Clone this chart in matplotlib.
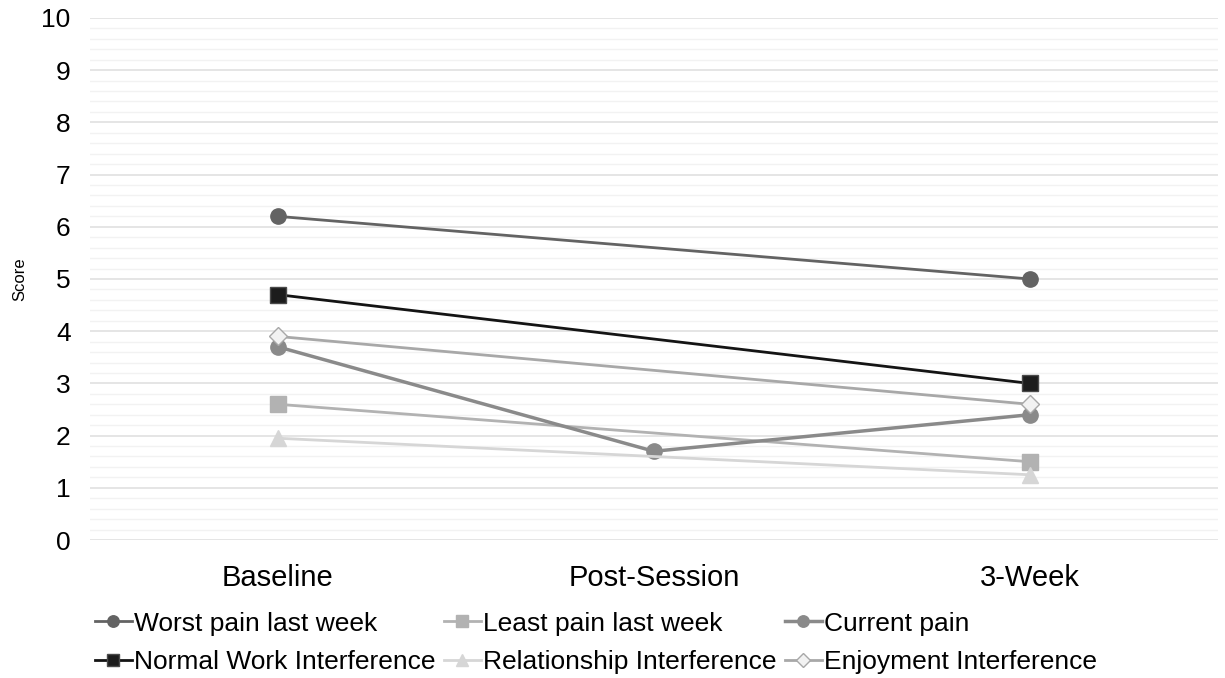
import numpy as np
import matplotlib
matplotlib.use("Agg")
import matplotlib.pyplot as plt

plt.rcParams['font.family'] = ['Liberation Sans', 'DejaVu Sans']

categories = ["Baseline", "Post-Session", "3-Week"]
worst_pain = [6.2, None, 5.0]
least_pain = [2.6, None, 1.5]
current_pain = [3.7, 1.7, 2.4]
normal_work = [4.7, None, 3.0]
relationship = [1.95, None, 1.25]
enjoyment = [3.9, None, 2.6]

series = [
    ("Worst pain last week", worst_pain, dict(color="#636363", marker="o", mfc="#636363", mec="#636363", lw=2.0, ms=11)),
    ("Least pain last week", least_pain, dict(color="#b2b2b2", marker="s", mfc="#b2b2b2", mec="#b2b2b2", lw=2.0, ms=11)),
    ("Current pain", current_pain, dict(color="#8a8a8a", marker="o", mfc="#8a8a8a", mec="#8a8a8a", lw=2.5, ms=11)),
    ("Normal Work Interference", normal_work, dict(color="#141414", marker="s", mfc="#1c1c1c", mec="#4a4a4a", lw=2.0, ms=11)),
    ("Relationship Interference", relationship, dict(color="#d6d6d6", marker="^", mfc="#d6d6d6", mec="#d6d6d6", lw=2.0, ms=12)),
    ("Enjoyment Interference", enjoyment, dict(color="#a8a8a8", marker="D", mfc="#f2f2f2", mec="#a8a8a8", lw=2.0, ms=9)),
]

fig = plt.figure(figsize=(12.25, 6.78), dpi=100)
ax = fig.add_axes([0.0735, 0.2035, 0.9205, 0.77])

handles = []
for name, vals, st in series:
    xs = [i for i, v in enumerate(vals) if v is not None]
    ys = [v for v in vals if v is not None]
    h, = ax.plot(xs, ys, label=name, zorder=3, **st)
    handles.append(h)

ax.set_xlim(-0.5, 2.5)
ax.set_ylim(0, 10)
ax.set_yticks(np.arange(0, 11, 1))
ax.set_yticks(np.arange(0, 10.01, 0.2), minor=True)
ax.grid(axis='y', which='major', color='#e3e3e3', lw=1.3, zorder=0)
ax.grid(axis='y', which='minor', color='#f2f2f2', lw=1.0, zorder=0)
ax.set_xticks(range(len(categories)))
ax.set_xticklabels(categories, fontsize=21)
ax.tick_params(axis='y', labelsize=19, length=0, pad=14, which='major')
ax.tick_params(axis='x', length=0, pad=17)
ax.tick_params(axis='y', which='minor', length=0)
for s in ax.spines.values():
    s.set_visible(False)
ax.set_ylabel("Score", fontsize=12, labelpad=10)

order = [0, 3, 1, 4, 2, 5]
leg = fig.legend([handles[i] for i in order], [series[i][0] for i in order],
                 loc='upper left', bbox_to_anchor=(0.058, 0.133), ncol=3, frameon=False,
                 fontsize=19, handlelength=1.4, handletextpad=0.1, columnspacing=0.3,
                 labelspacing=0.55, markerscale=0.75)
fig.savefig("out.png", dpi=100)
